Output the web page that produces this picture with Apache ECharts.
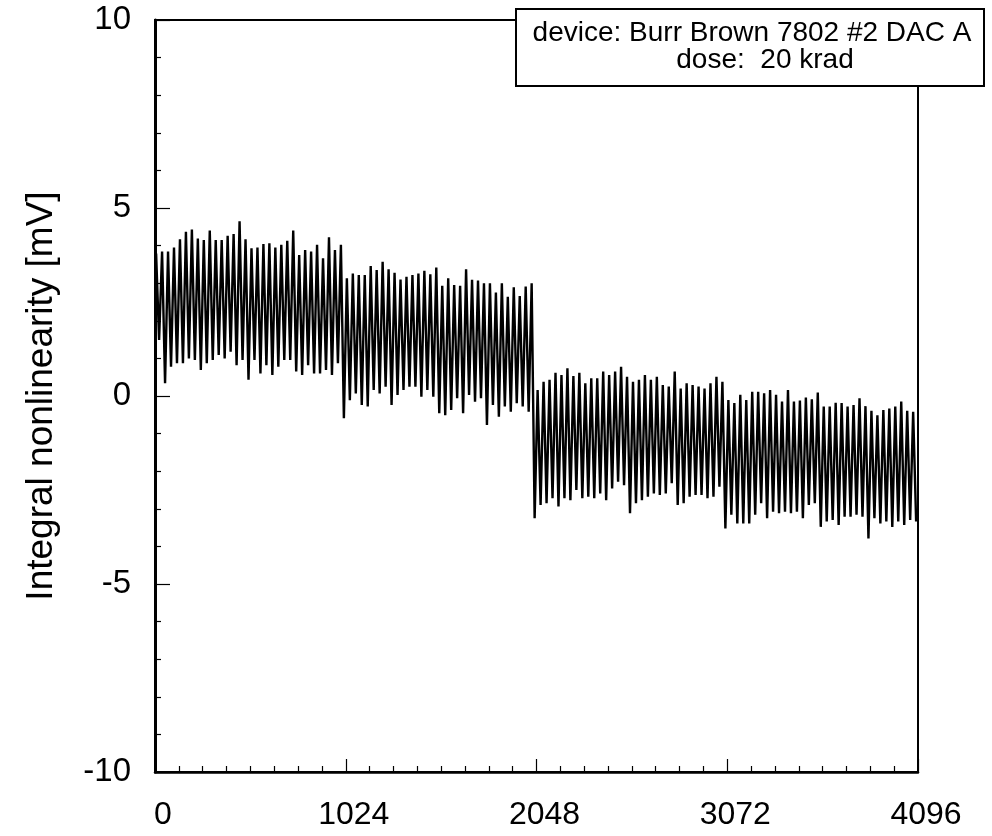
<!DOCTYPE html>
<html>
<head>
<meta charset="utf-8">
<script src="https://cdn.jsdelivr.net/npm/echarts@6/dist/echarts.min.js"></script>
<style>html,body{margin:0;padding:0;background:#fff}#c{width:992px;height:836px}</style>
</head>
<body>
<div id="c"></div>
<script>
// ---- data (one spike = 32 codes) ----
const xTicks = [0, 1024, 2048, 3072, 4096];
const yTicks = [-10, -5, 0, 5, 10];
const codesPerPeriod = 32;

const highs1 = [3.79, 3.84, 3.84, 3.95, 4.17, 4.37, 4.43, 4.19, 4.15, 4.40, 4.15, 4.15, 4.26, 4.31, 4.65, 4.17, 3.93, 3.95, 4.04, 4.06, 3.95, 4.02, 4.13, 4.40, 3.75, 3.88, 3.84, 4.02, 3.66, 4.22, 3.88, 4.02];
const lows1  = [1.49, 0.34, 0.78, 0.87, 0.87, 1.00, 0.96, 0.69, 0.87, 0.96, 1.09, 1.00, 1.18, 0.82, 0.96, 0.43, 0.96, 0.60, 0.82, 0.56, 0.78, 0.96, 0.96, 0.65, 0.56, 0.82, 0.60, 0.60, 0.69, 0.56, 0.87, -0.59];
const highs2 = [3.13, 3.26, 3.22, 3.22, 3.46, 3.35, 3.57, 3.37, 3.28, 3.10, 3.17, 3.22, 3.26, 3.33, 3.24, 3.42, 2.93, 3.13, 2.95, 2.93, 3.37, 3.09, 3.07, 3.00, 3.00, 2.75, 3.00, 2.64, 2.89, 2.66, 2.91, 3.00];
const lows2  = [-0.11, 0.07, -0.24, -0.28, 0.16, 0.07, 0.25, -0.24, 0.03, 0.16, 0.25, 0.25, -0.02, 0.16, -0.02, -0.46, -0.51, -0.37, -0.06, -0.46, 0.03, -0.15, -0.06, -0.77, -0.24, -0.55, -0.28, -0.42, -0.19, -0.28, -0.42, -3.25];
const highs3 = [0.16, 0.38, 0.43, 0.62, 0.56, 0.74, 0.53, 0.62, 0.34, 0.47, 0.47, 0.65, 0.56, 0.65, 0.78, 0.51, 0.38, 0.43, 0.56, 0.43, 0.51, 0.29, 0.25, 0.65, 0.20, 0.34, 0.29, 0.25, 0.20, 0.34, 0.51, 0.38];
const lows3  = [-2.90, -2.85, -2.72, -2.94, -2.72, -2.77, -2.50, -2.72, -2.68, -2.72, -2.59, -2.77, -2.46, -2.28, -2.37, -3.12, -2.85, -2.77, -2.68, -2.59, -2.63, -2.59, -2.32, -2.90, -2.85, -2.68, -2.63, -2.63, -2.72, -2.68, -2.41, -3.52];
const highs4 = [-0.11, -0.19, 0.03, -0.11, 0.11, 0.11, 0.07, 0.16, 0.03, -0.15, 0.16, -0.15, -0.12, -0.04, -0.09, 0.09, -0.28, -0.28, -0.18, -0.19, -0.28, -0.24, -0.06, -0.27, -0.39, -0.51, -0.37, -0.33, -0.28, -0.15, -0.39, -0.42];
const lows4  = [-3.16, -3.39, -3.39, -3.39, -3.16, -2.85, -3.25, -3.08, -3.12, -3.08, -3.12, -3.08, -3.25, -2.90, -2.85, -3.48, -3.34, -3.30, -3.43, -3.21, -3.21, -3.16, -3.21, -3.79, -3.25, -3.39, -3.34, -3.48, -3.34, -3.43, -3.30, -3.34];

const legendLines = ['device: Burr Brown 7802 #2 DAC A', 'dose:  20 krad'];
const yName = 'Integral nonlinearity [mV]';

// ---- build the series ----
const highs = [highs1, highs2, highs3, highs4];
const lows = [lows1, lows2, lows3, lows4];
const pts = [];
let k = 0;
for (let s = 0; s < 4; s++) {
  for (let j = 0; j < highs[s].length; j++) {
    const x0 = k * codesPerPeriod;
    pts.push([x0 + 6, highs[s][j]]);
    pts.push([x0 + 22, lows[s][j]]);
    k++;
  }
}

const font = "'Liberation Sans', Arial, Helvetica, sans-serif";
const chart = echarts.init(document.getElementById('c'), null, {renderer: 'canvas'});
chart.setOption({
  animation: false,
  backgroundColor: '#fff',
  grid: {left: 155, right: 74, top: 20, bottom: 64, show: true, borderColor: '#000', borderWidth: 2, backgroundColor: 'transparent'},
  xAxis: {
    type: 'value', min: xTicks[0], max: xTicks[xTicks.length - 1], interval: 1024,
    axisLine: {show: true, onZero: false, lineStyle: {color: '#000', width: 2.5}},
    axisTick: {show: true, inside: true, length: 13, lineStyle: {color: '#000', width: 1.2}},
    minorTick: {show: true, splitNumber: 8, length: 6, lineStyle: {color: '#000', width: 1.2}},
    splitLine: {show: false},
    axisLabel: {color: '#000', fontSize: 32, fontFamily: font, margin: 27, padding: [0, 0, 0, 16],
      formatter: function (v) { return String(v); }}
  },
  yAxis: {
    type: 'value', min: yTicks[0], max: yTicks[yTicks.length - 1], interval: 5,
    name: yName, nameLocation: 'middle', nameRotate: 90, nameGap: 95,
    nameTextStyle: {color: '#000', fontSize: 37, fontFamily: font},
    axisLine: {show: true, onZero: false, lineStyle: {color: '#000', width: 3}},
    axisTick: {show: true, inside: true, length: 15, lineStyle: {color: '#000', width: 1.2}},
    minorTick: {show: true, splitNumber: 5, length: 6, lineStyle: {color: '#000', width: 1.2}},
    splitLine: {show: false},
    axisLabel: {color: '#000', fontSize: 33, fontFamily: font, margin: 24,
      formatter: function (v) { return String(v); }}
  },
  series: [{
    type: 'line', data: pts, showSymbol: false, silent: true,
    lineStyle: {color: '#000', width: 2.4}
  }],
  graphic: [{
    type: 'group', z: 100,
    children: [
      {type: 'rect', shape: {x: 516, y: 9, width: 468, height: 77}, style: {fill: '#fff', stroke: '#000', lineWidth: 2}},
      {type: 'text', x: 752, y: 33, style: {text: legendLines[0], fill: '#000', font: "28px 'Liberation Sans', Arial, sans-serif", textAlign: 'center', textVerticalAlign: 'middle'}},
      {type: 'text', x: 765, y: 60, style: {text: legendLines[1], fill: '#000', font: "28px 'Liberation Sans', Arial, sans-serif", textAlign: 'center', textVerticalAlign: 'middle'}}
    ]
  }]
});
</script>
</body>
</html>
